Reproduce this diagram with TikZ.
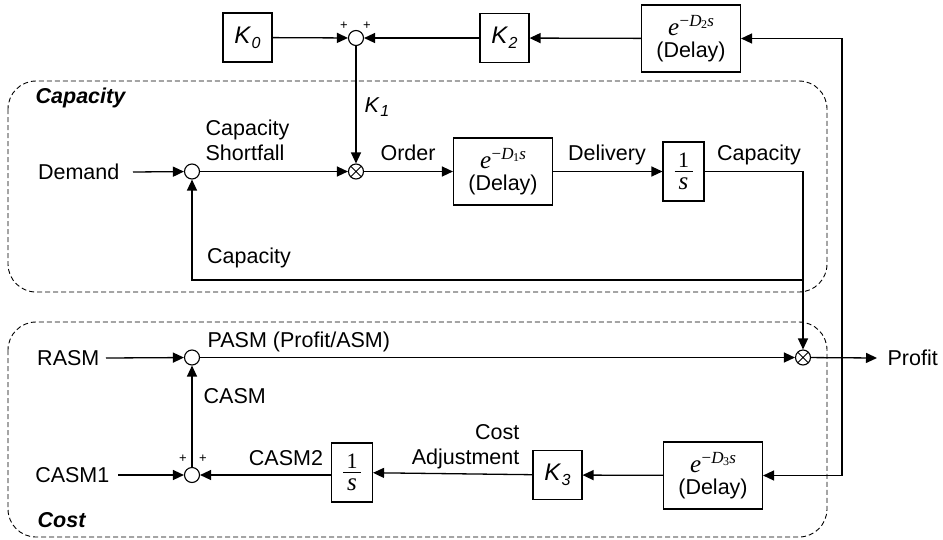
\documentclass[tikz,border=0pt]{standalone}
\usepackage{fontspec}
\setmainfont{Liberation Sans}
\newfontfamily\tms{Liberation Serif}
\usetikzlibrary{arrows.meta}
\newcommand\Kx[1]{\textit{K}\kern0.5pt\raisebox{-0.4ex}{\fontsize{16}{16}\selectfont\textit{#1}}}
\newcommand\dly[1]{{\tms\itshape\fontsize{25}{25}\selectfont e}\kern0.5pt\raisebox{9pt}{\fontsize{17}{17}\selectfont\tms \textminus\itshape D\kern-0.5pt\raisebox{-2.5pt}{\fontsize{12}{12}\selectfont\upshape #1}\kern0.3pt s}}
\begin{document}
\begin{tikzpicture}[x=1pt,y=-1pt,
  font=\fontsize{21.5}{25}\selectfont,
  line width=1.3pt,
  arr/.style={-{Triangle[length=11pt,width=10pt]}},
  kbox/.style={draw,line width=1.1pt,inner sep=0pt,minimum width=49pt,minimum height=49pt,font=\fontsize{24}{24}\selectfont},
  dbox/.style={draw,line width=1.1pt,inner sep=0pt,minimum width=99pt,minimum height=67pt,align=center,font=\fontsize{21.5}{24}\selectfont},
  ibox/.style={draw,line width=1.1pt,inner sep=0pt,minimum width=41pt,minimum height=59pt},
  numer/.style={inner sep=0pt,anchor=south,font=\tms\fontsize{22}{22}\selectfont},
  denom/.style={inner sep=0pt,anchor=north,font=\tms\itshape\fontsize{25}{25}\selectfont},
  fbar/.style={line width=1pt},
  sumn/.style={draw,circle,line width=1.1pt,inner sep=0pt,minimum size=15pt},
  muln/.style={draw,circle,line width=1.1pt,inner sep=0pt,minimum size=15pt,
     path picture={\draw[line width=0.9pt] (path picture bounding box.north west)--(path picture bounding box.south east)
       (path picture bounding box.north east)--(path picture bounding box.south west);}},
  region/.style={draw,line width=0.9pt,dash pattern=on 5pt off 3pt,rounded corners=28pt},
  lbl/.style={inner sep=0pt},
  plus/.style={inner sep=0pt,font=\fontsize{13}{13}\selectfont},
  title/.style={inner sep=0pt,anchor=west,font=\fontsize{21.5}{25}\selectfont\bfseries\itshape}
]
\useasboundingbox (0,0) rectangle (943,539);

% regions
\draw[region] (8,81) rectangle (827,292);
\draw[region] (8,322) rectangle (827,537);
\node[title] (tcap) at (35,98) {Capacity};
\node[title] (tcost) at (37,520) {Cost};

% top row
\node[kbox] (k0) at (247.5,37.5) {\Kx{0}};
\node[sumn] (s1) at (356,38) {};
\node[kbox] (k2) at (504.5,38) {\Kx{2}};
\node[dbox] (d2) at (691,38.5) {\dly{2}\\[-2pt](Delay)};
\node[plus] (p1) at (344,26) {+};
\node[plus] (p2) at (367,26) {+};

% capacity loop
\node[lbl,anchor=east] (demand) at (120,172) {Demand};
\node[sumn] (s2) at (192,171.5) {};
\node[muln] (m1) at (356,171.5) {};
\node[dbox] (d1) at (503,171.5) {\dly{1}\\[-2pt](Delay)};
\node[ibox] (i1) at (683.5,171.5) {};
\node[numer] (i1n) at ([yshift=3.5pt]i1.center) {1};
\node[denom] (i1d) at ([yshift=-6pt]i1.center) {s};
\draw[fbar] ([xshift=-9pt]i1.center) -- ([xshift=9pt]i1.center);
\node[lbl,anchor=west,align=left] (short) at (205,140.5) {Capacity\\Shortfall};
\node[lbl] (order) at (408,153) {Order};
\node[lbl] (deliv) at (607,155) {Delivery};
\node[lbl] (capout) at (759,155) {Capacity};
\node[lbl] (capfb) at (249,258) {Capacity};
\node[lbl,anchor=west] (k1) at (364,107) {\Kx{1}};
\coordinate (fb) at (803,280);

% cost loop
\node[lbl,anchor=east] (rasm) at (100,358) {RASM};
\node[sumn] (s3) at (192,357.5) {};
\node[muln] (m2) at (803,357.5) {};
\node[lbl,anchor=west] (profit) at (887,358) {Profit};
\node[lbl,anchor=west] (pasm) at (207,342) {PASM (Profit/ASM)};
\node[lbl,anchor=west] (casm) at (203,396) {CASM};
\node[lbl,anchor=east] (casm1) at (110,475) {CASM1};
\node[sumn] (s4) at (192,475) {};
\node[plus] (p3) at (183,459) {+};
\node[plus] (p4) at (203,459) {+};
\node[ibox] (i2) at (352,472.5) {};
\node[numer] (i2n) at ([yshift=3.5pt]i2.center) {1};
\node[denom] (i2d) at ([yshift=-6pt]i2.center) {s};
\draw[fbar] ([xshift=-9pt]i2.center) -- ([xshift=9pt]i2.center);
\node[lbl] (casm2) at (286,458) {CASM2};
\node[kbox] (k3) at (557.5,475) {\Kx{3}};
\node[dbox] (d3) at (713,475.5) {\dly{3}\\[-2pt](Delay)};
\node[lbl,anchor=east,align=right] (cadj) at (520,446.5) {Cost\\Adjustment};
\coordinate (jn) at (842,358);

% connectors top
\draw[arr] (k0) -- (s1);
\draw[arr] (k2) -- (s1);
\draw[arr] (d2) -- (k2);
\draw[arr] (jn) |- (d2.east);
\draw[arr] (jn) |- (d3.east);
\draw[arr] (s1) -- (m1);

% connectors capacity
\draw[arr] ([xshift=13pt]demand.east) -- (s2);
\draw[arr] (s2) -- (m1);
\draw[arr] (m1) -- (d1);
\draw[arr] (d1) -- (i1);
\draw[arr] (i1.east) -| (m2.north);
\draw[arr] (fb) -| (s2.south);

% connectors cost
\draw[arr] ([xshift=6pt]rasm.east) -- (s3);
\draw[arr] (s3) -- (m2);
\draw[arr] (m2) -- ([xshift=-10pt]profit.west);
\draw[arr] ([xshift=8pt]casm1.east) -- (s4);
\draw[arr] (s4) -- (s3);
\draw[arr] (i2.west |- s4) -- (s4);
\draw[arr] (k3) -- (i2);
\draw[arr] (d3) -- (k3);
\end{tikzpicture}
\end{document}
